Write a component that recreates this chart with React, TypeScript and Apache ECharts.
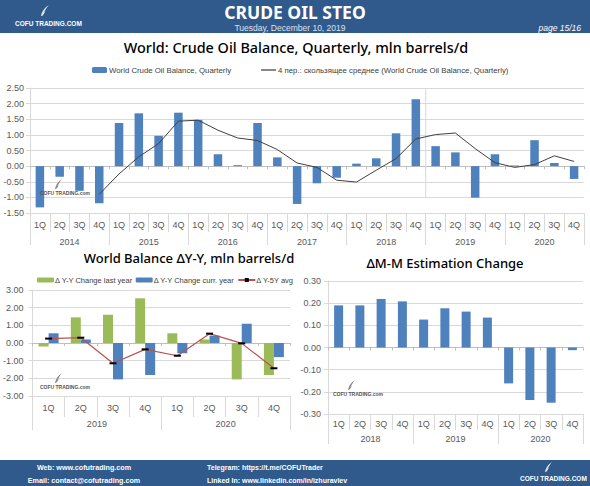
import React, { useEffect, useRef } from "react";
import * as echarts from "echarts";

// ---------- data ----------
const quarterLabels = ["1Q", "2Q", "3Q", "4Q"];

const balanceYears = ["2014", "2015", "2016", "2017", "2018", "2019", "2020"];
const balanceValues = [
  -1.32, -0.34, -0.79, -1.19,
  1.38, 1.69, 0.97, 1.71,
  1.48, 0.38, 0.03, 1.38,
  0.28, -1.21, -0.55, -0.37,
  0.08, 0.25, 1.05, 2.14,
  0.64, 0.44, -1.01, 0.38,
  0.02, 0.83, 0.1, -0.41,
];
const movingAverage = [
  null, null, null, -0.9,
  -0.25, 0.3, 0.72, 1.44,
  1.47, 1.15, 0.9, 0.82,
  0.53, 0.1, -0.04, -0.45,
  -0.51, -0.13, 0.24, 0.87,
  1.01, 1.06, 0.56, 0.11,
  -0.04, 0.05, 0.33, 0.15,
];

const yoyYears = ["2019", "2020"];
const yoyLastYear = [-0.2, 1.45, 1.6, 2.53, 0.55, 0.2, -2.06, -1.81];
const yoyCurrYear = [0.55, 0.2, -2.06, -1.81, -0.58, 0.42, 1.09, -0.8];
const yoy5YAvg = [0.25, 0.3, -1.15, -0.36, -0.72, 0.53, -0.02, -1.43];

const mmYears = ["2018", "2019", "2020"];
const mmChange = [0.19, 0.19, 0.219, 0.208, 0.126, 0.177, 0.162, 0.135, -0.162, -0.237, -0.249, -0.012];

const yTicksTop = { min: -1.5, max: 2.5, interval: 0.5 };
const yTicksYoy = { min: -3, max: 3, interval: 1 };
const yTicksMm = { min: -0.3, max: 0.3, interval: 0.1 };

// ---------- styles ----------
const FONT = "'Liberation Sans', Arial, sans-serif";
const TITLE_FONT = "'Noto Sans', 'Open Sans', sans-serif";
const HEAD_BLUE = "#30598c";
const BAR_BLUE = "#4f81bd";
const BAR_GREEN = "#9bbb59";
const GRID_COLOR = "#d9d9d9";
const LABEL_COLOR = "#595959";

const FEATHER =
  "M2 20 C3 13 7 6 16 0 C12 5 9 10 7 14 L10 11 C8 15 6 18 4 20 Z";

function buildQuarters(years: string[]) {
  const out: string[] = [];
  years.forEach((y) => quarterLabels.forEach((q) => out.push(q + " " + y)));
  return out;
}

export default function App() {
  const ref = useRef<HTMLDivElement>(null);

  useEffect(() => {
    if (!ref.current) return;
    try {
      echarts.graphic.registerShape("feather", echarts.graphic.extendPath(FEATHER, {}));
    } catch (e) {}
    const chart = echarts.init(ref.current, undefined, { renderer: "svg" });

    const topQ = buildQuarters(balanceYears);
    const yoyQ = buildQuarters(yoyYears);
    const mmQ = buildQuarters(mmYears);

    const qLabel = (margin: number) => ({
      interval: 0,
      margin,
      fontSize: 9,
      color: LABEL_COLOR,
      fontFamily: FONT,
      formatter: (v: string) => v.split(" ")[0],
    });

    const labelAxis = (grid: number, data: string[], tickLen: number, margin: number) => ({
      type: "category",
      gridIndex: grid,
      data,
      position: "bottom",
      axisLine: { show: true, onZero: false, lineStyle: { color: GRID_COLOR } },
      axisTick: { show: true, interval: 0, length: tickLen, lineStyle: { color: GRID_COLOR } },
      axisLabel: qLabel(margin),
      splitLine: { show: false },
    });
    const yearAxis = (grid: number, data: string[], tickLen: number, margin: number) => ({
      type: "category",
      gridIndex: grid,
      data,
      position: "bottom",
      axisLine: { show: false, onZero: false },
      axisTick: { show: true, interval: 0, length: tickLen, lineStyle: { color: GRID_COLOR } },
      axisLabel: { interval: 0, margin, fontSize: 9, color: LABEL_COLOR, fontFamily: FONT },
      splitLine: { show: false },
    });
    const zeroAxis = (grid: number, data: string[]) => ({
      type: "category",
      gridIndex: grid,
      data,
      position: "bottom",
      axisLine: { show: true, onZero: true, lineStyle: { color: "#bfbfbf" } },
      axisTick: { show: true, interval: 0, length: 3, lineStyle: { color: "#bfbfbf" } },
      axisLabel: { show: false },
      splitLine: { show: false },
    });
    const valueAxis = (grid: number, t: { min: number; max: number; interval: number }, margin: number) => ({
      type: "value",
      gridIndex: grid,
      min: t.min,
      max: t.max,
      interval: t.interval,
      axisLine: { show: true, lineStyle: { color: GRID_COLOR } },
      axisTick: { show: true, length: 4, lineStyle: { color: GRID_COLOR } },
      axisLabel: {
        margin,
        fontSize: 9,
        color: LABEL_COLOR,
        fontFamily: FONT,
        formatter: (v: number) => v.toFixed(2),
      },
      splitLine: { show: true, lineStyle: { color: GRID_COLOR } },
    });

    const txt = (text: string, x: number, y: number, o: any = {}) => ({
      type: "text",
      z: 100,
      style: {
        text,
        x,
        y,
        fill: o.fill || "#000",
        fontSize: o.size || 10,
        fontFamily: o.family || FONT,
        fontWeight: o.weight || "normal",
        fontStyle: o.style || "normal",
        align: o.align || "left",
        textAlign: o.align || "left",
        verticalAlign: "middle",
        textVerticalAlign: "middle",
      },
    });
    const feather = (x: number, y: number, s: number, fill: string) => ({
      type: "feather",
      x,
      y,
      scaleX: s,
      scaleY: s,
      z: 100,
      style: { fill },
    });
    const watermark = (x: number, y: number) => [
      feather(x + 14, y - 14, 0.5, "#888"),
      txt("COFU TRADING.com", x, y, { size: 5, weight: "bold", fill: "#555" }),
    ];

    const baseGraphics: any[] = [
      { type: "rect", shape: { x: 0, y: 0, width: 590, height: 33 }, style: { fill: HEAD_BLUE }, z: 90 },
      { type: "rect", shape: { x: 0, y: 460, width: 590, height: 26 }, style: { fill: HEAD_BLUE }, z: 90 },
      feather(40, 5, 0.55, "#dfe6ef"),
      txt("COFU TRADING.COM", 15, 23, { size: 6.5, weight: "bold", fill: "#fff" }),
      txt("CRUDE OIL STEO", 295, 11.5, { size: 17.5, weight: "bold", fill: "#fff", align: "center", family: TITLE_FONT }),
      txt("Tuesday, December 10, 2019", 290, 27.5, { size: 8.5, fill: "#dbe3ee", align: "center" }),
      txt("page 15/16", 581, 27.5, { size: 8.5, fill: "#fff", align: "right", style: "italic" }),
      txt("World: Crude Oil Balance, Quarterly, mln barrels/d", 296, 47, { size: 14.4, align: "center", family: TITLE_FONT, weight: 500 }),
      txt("World Balance \u0394Y-Y, mln barrels/d", 189, 258, { size: 13, align: "center", family: TITLE_FONT, weight: 500 }),
      txt("\u0394M-M Estimation Change", 445, 263, { size: 13, align: "center", family: TITLE_FONT, weight: 500 }),
      txt("Web: www.cofutrading.com", 84, 467, { size: 7.2, weight: "bold", fill: "#fff", align: "center" }),
      txt("Email: contact@cofutrading.com", 84, 480, { size: 7.2, weight: "bold", fill: "#fff", align: "center" }),
      txt("Telegram: https://t.me/COFUTrader", 207, 467, { size: 7, weight: "bold", fill: "#fff" }),
      txt("Linked In: www.linkedin.com/in/izhuravlev", 207, 480, { size: 7, weight: "bold", fill: "#fff" }),
      feather(544, 462, 0.5, "#dfe6ef"),
      txt("COFU TRADING.COM", 520, 478, { size: 6.5, weight: "bold", fill: "#fff" }),
      ...watermark(40, 193),
      ...watermark(40, 387),
      ...watermark(333, 394),
    ];

    const option: any = {
      animation: false,
      backgroundColor: "#fff",
      textStyle: { fontFamily: FONT },
      grid: [
        { left: 30, top: 88, width: 554, height: 125 },
        { left: 30, top: 290, width: 260, height: 106 },
        { left: 328, top: 281, width: 255, height: 133 },
      ],
      legend: [
        {
          data: [
            "World Crude Oil Balance, Quarterly",
            {
              name: "4 пер.: скользящее среднее (World Crude Oil Balance, Quarterly)",
              icon: "path://M0 0H12V1H0Z",
            },
          ],
          left: 87,
          top: 61,
          itemWidth: 15,
          itemHeight: 6,
          itemGap: 30,
          textStyle: { fontSize: 7.8, color: "#404040", fontFamily: FONT, padding: [0, 0, 0, -3] },
        },
        {
          data: ["\u0394 Y-Y Change last year", "\u0394 Y-Y Change curr. year", "\u0394 Y-5Y avg"],
          left: 32,
          top: 271,
          itemWidth: 17,
          itemHeight: 5,
          itemGap: 3,
          textStyle: { fontSize: 7.5, color: "#404040", fontFamily: FONT, padding: [0, 0, 0, -4] },
        },
      ],
      xAxis: [
        labelAxis(0, topQ, 19, 7),
        yearAxis(0, balanceYears, 32, 24),
        zeroAxis(0, topQ),
        labelAxis(1, yoyQ, 21, 7),
        yearAxis(1, yoyYears, 34, 23),
        zeroAxis(1, yoyQ),
        labelAxis(2, mmQ, 16, 5),
        yearAxis(2, mmYears, 30, 20),
        zeroAxis(2, mmQ),
      ],
      yAxis: [valueAxis(0, yTicksTop, 6), valueAxis(1, yTicksYoy, 9), valueAxis(2, yTicksMm, 7)],
      series: [
        {
          name: "World Crude Oil Balance, Quarterly",
          type: "bar",
          xAxisIndex: 0,
          yAxisIndex: 0,
          data: balanceValues,
          barWidth: "43%",
          itemStyle: { color: BAR_BLUE },
        },
        {
          name: "4 пер.: скользящее среднее (World Crude Oil Balance, Quarterly)",
          type: "line",
          xAxisIndex: 0,
          yAxisIndex: 0,
          data: movingAverage,
          symbol: "none",
          lineStyle: { color: "#404040", width: 1 },
          itemStyle: { color: "#404040" },
        },
        {
          name: "\u0394 Y-Y Change last year",
          type: "bar",
          xAxisIndex: 3,
          yAxisIndex: 1,
          data: yoyLastYear,
          barWidth: 10,
          barGap: "0%",
          itemStyle: { color: BAR_GREEN },
        },
        {
          name: "\u0394 Y-Y Change curr. year",
          type: "bar",
          xAxisIndex: 3,
          yAxisIndex: 1,
          data: yoyCurrYear,
          barWidth: 10,
          barGap: "0%",
          itemStyle: { color: BAR_BLUE },
        },
        {
          name: "\u0394 Y-5Y avg",
          type: "line",
          xAxisIndex: 3,
          yAxisIndex: 1,
          data: yoy5YAvg,
          symbol: "rect",
          symbolSize: [7, 2],
          lineStyle: { color: "#c0504d", width: 1.2 },
          itemStyle: { color: "#000" },
          z: 5,
        },
        {
          name: "mm",
          type: "bar",
          xAxisIndex: 6,
          yAxisIndex: 2,
          data: mmChange,
          barWidth: 9,
          itemStyle: { color: BAR_BLUE },
        },
      ],
      graphic: { elements: baseGraphics },
    };

    chart.setOption(option);

    // forecast separator between 4Q 2018 and 1Q 2019 on the top chart
    const p19 = chart.convertToPixel({ xAxisIndex: 0 } as any, 19) as any;
    const p20 = chart.convertToPixel({ xAxisIndex: 0 } as any, 20) as any;
    const yTop = chart.convertToPixel({ yAxisIndex: 0 } as any, yTicksTop.max) as any;
    const yBot = chart.convertToPixel({ yAxisIndex: 0 } as any, -1.0) as any;
    if (typeof p19 === "number" && typeof p20 === "number") {
      const xm = (p19 + p20) / 2;
      chart.setOption({
        graphic: {
          elements: [
            ...baseGraphics,
            {
              type: "line",
              shape: { x1: xm, y1: yTop, x2: xm, y2: yBot },
              style: { stroke: GRID_COLOR, lineWidth: 1 },
              z: 1,
            },
          ],
        },
      });
    }

    return () => chart.dispose();
  }, []);

  return (
    <div
      ref={ref}
      style={{ position: "absolute", left: 0, top: 0, width: 590, height: 486 }}
    />
  );
}
